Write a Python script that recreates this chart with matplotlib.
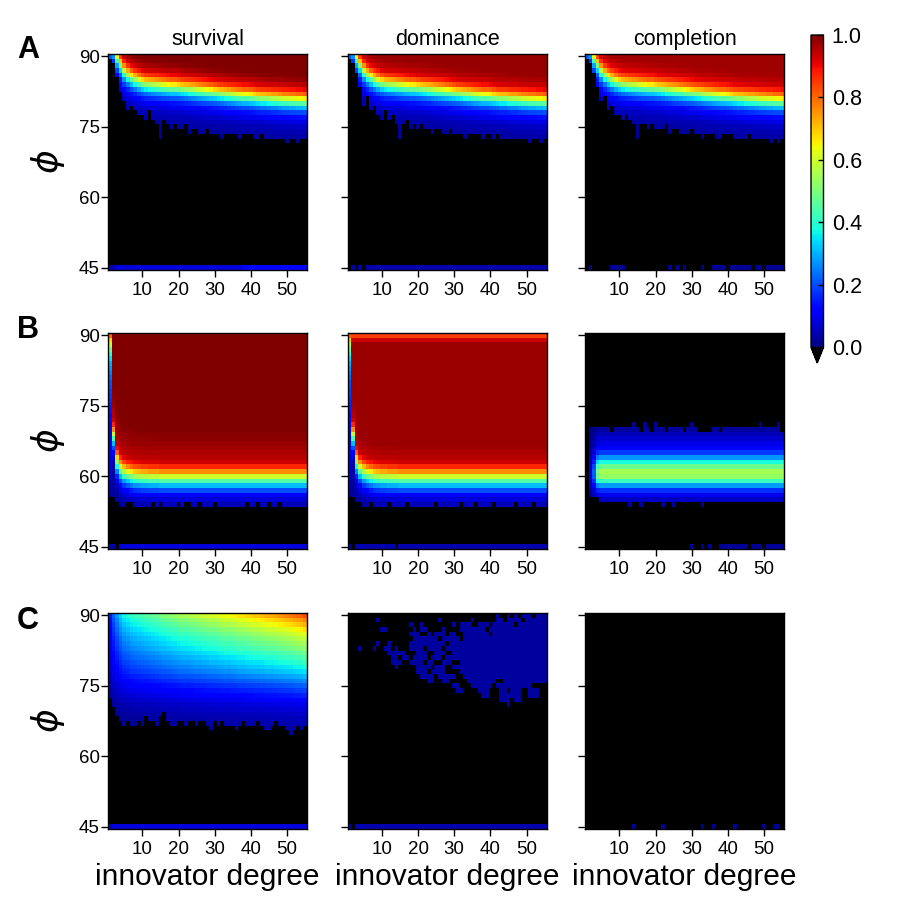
import numpy as np
import matplotlib.pyplot as plt

plt.rcParams['font.family'] = ['Liberation Sans', 'DejaVu Sans']

degree = np.arange(1, 56)
phi = np.arange(45, 91)
titles = ['survival', 'dominance', 'completion']
row_letters = ['A', 'B', 'C']
xticks = [10, 20, 30, 40, 50]
yticks = [45, 60, 75, 90]
cbar_ticks = [0.0, 0.2, 0.4, 0.6, 0.8, 1.0]

# codes used for the phi = 45 row ('.' = nothing, drawn black)
level = {'.': -1.0, '1': 0.02, '2': 0.04, '3': 0.08, '4': 0.11}

# ---- row A : phi where the value is 0.5, per degree
a_center = [92.0, 91.6, 89.4, 88.0, 86.6, 85.8, 85.2, 84.8, 84.4, 84.1,
            83.9, 83.8, 83.7, 83.6, 83.5, 83.4, 83.3, 83.2, 83.2, 83.1,
            83.0, 82.9, 82.8, 82.7, 82.6, 82.5, 82.4, 82.3, 82.2, 82.1,
            82.0, 81.9, 81.8, 81.7, 81.6, 81.5, 81.4, 81.3, 81.3, 81.2,
            81.1, 81.0, 80.9, 80.9, 80.8, 80.7, 80.7, 80.6, 80.5, 80.5,
            80.4, 80.4, 80.3, 80.3, 80.2]
a_offset = [-9, -8, -7, -6, -5, -4, -3, -2, -1, 0, 1, 2, 3, 4, 5, 6]
a_survival_prof = [0.02, 0.03, 0.04, 0.05, 0.07, 0.1, 0.15, 0.22, 0.34, 0.5,
                   0.7, 0.84, 0.92, 0.96, 0.99, 1.0]
a_dominance_prof = [0.02, 0.03, 0.04, 0.05, 0.07, 0.1, 0.15, 0.22, 0.34, 0.5,
                    0.7, 0.84, 0.92, 0.95, 0.97, 0.98]
a_completion_prof = [0.02, 0.03, 0.04, 0.05, 0.07, 0.1, 0.15, 0.22, 0.34, 0.5,
                     0.7, 0.83, 0.91, 0.94, 0.96, 0.97]
# lowest non-black phi, per degree
a_survival_low = [90, 89, 86, 83, 81, 79, 80, 79, 78, 78,
                  77, 79, 77, 76, 73, 77, 76, 75, 76, 75,
                  75, 76, 74, 75, 75, 74, 74, 75, 74, 74,
                  74, 73, 74, 74, 74, 74, 73, 74, 74, 74,
                  73, 73, 74, 73, 73, 73, 73, 73, 73, 72,
                  73, 73, 72, 73, 73]
a_dominance_low = [90, 89, 87, 84, 80, 82, 79, 80, 78, 77,
                   79, 77, 78, 76, 73, 76, 77, 75, 76, 75,
                   76, 75, 75, 74, 75, 75, 74, 74, 75, 74,
                   74, 74, 73, 74, 74, 74, 74, 73, 74, 74,
                   73, 74, 73, 73, 73, 73, 73, 73, 73, 73,
                   72, 73, 73, 72, 73]
a_completion_low = [90, 89, 87, 84, 81, 82, 79, 80, 78, 78,
                    77, 78, 77, 76, 73, 76, 76, 75, 76, 75,
                    75, 75, 76, 74, 75, 75, 74, 74, 74, 75,
                    74, 74, 73, 74, 74, 74, 73, 73, 74, 74,
                    74, 73, 73, 73, 73, 74, 73, 73, 73, 73,
                    73, 72, 73, 72, 73]
a_survival_bottom = '22' + '3' * 35 + '4' * 18
a_dominance_bottom = '.2.2.' + '2' * 50
a_completion_bottom = ('.1' + '.' * 5 + '1' * 4 + '.' * 12 + '1.1.1' + '.' * 4
                       + '1..' + '1' * 4 + '.' + '1' * 6 + '.11.' + '1' * 5)

# ---- row B : phi of the yellow (0.6) cell, per degree
b_center = [88.0, 69.0, 63.5, 62.0, 61.3, 60.9, 60.6, 60.4, 60.3, 60.2,
            60.2, 60.1, 60.1, 60.1, 60.0, 60.0, 60.0, 60.0, 60.0, 60.0,
            60.0, 60.0, 60.0, 60.0, 60.0, 60.0, 60.0, 60.0, 60.0, 60.0,
            60.0, 60.0, 60.0, 60.0, 60.0, 60.0, 60.0, 60.0, 60.0, 60.0,
            60.0, 60.0, 60.0, 60.0, 60.0, 60.0, 60.0, 60.0, 60.0, 60.0,
            60.0, 60.0, 60.0, 60.0, 60.0]
b_offset = [-7, -6, -5, -4, -3, -2, -1, 0, 1, 2, 3, 4, 5, 6, 7, 8, 9, 10, 11]
b_survival_prof = [0.03, 0.05, 0.08, 0.12, 0.2, 0.31, 0.45, 0.6, 0.76, 0.87,
                   0.93, 0.95, 0.96, 0.97, 0.98, 0.985, 0.99, 1.0, 1.0]
b_dominance_prof = [0.03, 0.05, 0.08, 0.12, 0.2, 0.31, 0.45, 0.6, 0.76, 0.87,
                    0.93, 0.95, 0.96, 0.97, 0.975, 0.975, 0.975, 0.975, 0.975]
b_dominance_top = {90: 0.84, 89: 0.93}
# degree 1 column, phi 90 down to 46
b_first_col = [0.8, 0.68, 0.58, 0.47, 0.4, 0.35, 0.3, 0.27, 0.25, 0.23,
               0.21, 0.2, 0.19, 0.18, 0.17, 0.16, 0.15, 0.14, 0.14, 0.13,
               0.13, 0.12, 0.12, 0.11, 0.11, 0.1, 0.1, 0.09, 0.09, 0.08,
               0.07, 0.06, 0.05, 0.04, 0.03, -1, -1, -1, -1, -1,
               -1, -1, -1, -1, -1]
b_survival_low = [56, 56, 55, 54, 54, 55, 55, 54, 54, 54,
                  54, 54, 55, 54, 55, 54, 54, 54, 54, 55,
                  54, 55, 55, 54, 54, 55, 54, 54, 54, 55,
                  54, 54, 54, 54, 54, 54, 54, 54, 55, 54,
                  54, 55, 54, 54, 55, 54, 54, 55, 54, 54,
                  54, 54, 54, 54, 54]
b_dominance_low = [56, 56, 55, 55, 54, 54, 55, 54, 54, 54,
                   54, 55, 54, 54, 54, 54, 55, 54, 54, 54,
                   54, 54, 54, 54, 55, 54, 54, 54, 54, 54,
                   54, 55, 54, 54, 54, 55, 54, 54, 54, 54,
                   55, 54, 54, 54, 54, 54, 55, 54, 54, 54,
                   54, 55, 54, 54, 54]
b_survival_bottom = '22.' + '3' * 52
b_dominance_bottom = '2.' + '2' * 11 + '.' + '2' * 41

# completion band, value per phi row
b_band_phi = [71, 70, 69, 68, 67, 66, 65, 64, 63, 62, 61, 60, 59, 58, 57, 56, 55, 54]
b_band_value = [0.02, 0.03, 0.05, 0.07, 0.09, 0.12, 0.18, 0.27, 0.38, 0.48,
                0.55, 0.53, 0.42, 0.28, 0.17, 0.1, 0.06, 0.03]
b_band_scale = [0.0, 0.15, 0.4, 0.9] + [1.0] * 51
b_band_top = [0, 70, 70, 70, 70, 70, 70, 69, 70, 70,
              70, 70, 70, 71, 70, 69, 71, 70, 69, 71,
              70, 70, 69, 70, 70, 70, 70, 69, 70, 71,
              70, 69, 69, 69, 69, 70, 70, 69, 70, 70,
              70, 70, 70, 70, 70, 70, 70, 70, 71, 70,
              70, 70, 70, 71, 69]
b_band_low = [99, 56, 56, 56, 55, 55, 55, 55, 55, 55,
              55, 55, 54, 55, 55, 54, 55, 55, 55, 55,
              55, 54, 55, 55, 54, 55, 55, 55, 55, 55,
              55, 55, 54, 55, 55, 55, 55, 55, 55, 55,
              55, 55, 55, 55, 55, 55, 55, 55, 55, 55,
              55, 55, 55, 55, 55]
b_completion_bottom = '.' * 29 + '1..1.1..' + '1' * 8 + '.111.' + '1' * 5

# ---- row C : survival = value at phi 90 per degree, times a phi factor
c_top = [0.15, 0.22, 0.28, 0.33, 0.37, 0.39, 0.41, 0.42, 0.43, 0.44,
         0.45, 0.46, 0.47, 0.48, 0.49, 0.5, 0.51, 0.52, 0.53, 0.54,
         0.55, 0.55, 0.56, 0.57, 0.58, 0.58, 0.59, 0.6, 0.61, 0.61,
         0.62, 0.63, 0.64, 0.64, 0.65, 0.66, 0.67, 0.67, 0.68, 0.69,
         0.7, 0.7, 0.71, 0.72, 0.73, 0.73, 0.74, 0.75, 0.76, 0.77,
         0.78, 0.79, 0.8, 0.81, 0.83]
# phi 90 down to 65
c_phi_factor = [1.0, 0.93, 0.87, 0.81, 0.76, 0.71, 0.67, 0.63, 0.58, 0.54,
                0.5, 0.46, 0.42, 0.37, 0.32, 0.27, 0.23, 0.19, 0.15, 0.12,
                0.1, 0.08, 0.065, 0.055, 0.045, 0.04]
c_survival_low = [73, 71, 69, 68, 67, 68, 67, 67, 68, 67,
                  69, 68, 68, 67, 69, 70, 68, 67, 67, 68,
                  68, 67, 68, 68, 67, 68, 68, 67, 66, 68,
                  67, 68, 67, 67, 67, 66, 67, 68, 67, 67,
                  67, 68, 67, 66, 66, 67, 68, 67, 67, 66,
                  65, 66, 67, 66, 67]
# dominance: scattered cells, phi -> degree ranges
c_dom_value = 0.03
c_dom_cells = {
    90: [(42, 42), (45, 45), (47, 47), (49, 51), (53, 55)],
    89: [(9, 9), (26, 26), (35, 35), (42, 43), (45, 48), (50, 55)],
    88: [(18, 18), (21, 21), (30, 30), (32, 34), (37, 39), (41, 46), (48, 55)],
    87: [(10, 11), (19, 19), (21, 22), (27, 27), (32, 38), (40, 55)],
    86: [(18, 20), (23, 23), (25, 27), (29, 30), (33, 39), (41, 55)],
    85: [(19, 25), (27, 31), (33, 55)],
    84: [(9, 9), (12, 12), (18, 27), (29, 55)],
    83: [(4, 4), (8, 8), (11, 12), (14, 14), (18, 21), (23, 26), (28, 55)],
    82: [(12, 16), (20, 22), (25, 27), (30, 55)],
    81: [(13, 14), (16, 17), (19, 22), (24, 26), (28, 55)],
    80: [(13, 15), (18, 21), (23, 24), (27, 29), (32, 55)],
    79: [(14, 14), (20, 23), (25, 27), (30, 55)],
    78: [(20, 22), (24, 27), (32, 55)],
    77: [(21, 24), (26, 30), (33, 55)],
    76: [(23, 24), (27, 28), (34, 41), (44, 55)],
    75: [(30, 31), (35, 40), (42, 51)],
    74: [(31, 32), (37, 39), (43, 44), (46, 48), (51, 53)],
    73: [(38, 39), (43, 46), (47, 48), (51, 53)],
    72: [(43, 45), (47, 48)],
    71: [(45, 45)],
}
c_survival_bottom = '2' + '3' * 54
c_dominance_bottom = '2.' + '2' * 53
c_completion_bottom = ('.' * 13 + '1' + '.' * 7 + '1' + '.' * 10 + '1..1'
                       + '.' * 5 + '1' + '.' * 7 + '1..11.')


def empty():
    return np.full((len(phi), len(degree)), -1.0)


def profile_grid(center, low, offset, prof):
    z = empty()
    for j in range(len(degree)):
        keep = (phi >= low[j]) & (phi > phi[0])
        z[keep, j] = np.interp(phi[keep] - center[j], offset, prof)
    return z


def set_bottom(z, code):
    z[0] = [level[ch] for ch in code]
    return z


grids = {}
grids[0, 0] = set_bottom(profile_grid(a_center, a_survival_low, a_offset, a_survival_prof), a_survival_bottom)
grids[0, 1] = set_bottom(profile_grid(a_center, a_dominance_low, a_offset, a_dominance_prof), a_dominance_bottom)
grids[0, 2] = set_bottom(profile_grid(a_center, a_completion_low, a_offset, a_completion_prof), a_completion_bottom)

z = profile_grid(b_center, b_survival_low, b_offset, b_survival_prof)
z[1:, 0] = b_first_col[::-1]
grids[1, 0] = set_bottom(z, b_survival_bottom)

z = profile_grid(b_center, b_dominance_low, b_offset, b_dominance_prof)
z[1:, 0] = b_first_col[::-1]
for p, cap in b_dominance_top.items():
    i = np.where(phi == p)[0][0]
    z[i] = np.where(z[i] >= 0, np.minimum(z[i], cap), z[i])
grids[1, 1] = set_bottom(z, b_dominance_bottom)

z = empty()
for j in range(len(degree)):
    for p, v in zip(b_band_phi, b_band_value):
        if b_band_low[j] <= p <= b_band_top[j]:
            z[phi == p, j] = v * b_band_scale[j]
grids[1, 2] = set_bottom(z, b_completion_bottom)

z = empty()
for j in range(len(degree)):
    for k, f in enumerate(c_phi_factor):
        p = 90 - k
        if p >= c_survival_low[j]:
            z[phi == p, j] = c_top[j] * f
grids[2, 0] = set_bottom(z, c_survival_bottom)

z = empty()
for p, spans in c_dom_cells.items():
    for a, b in spans:
        z[phi == p, a - 1:b] = c_dom_value
grids[2, 1] = set_bottom(z, c_dominance_bottom)

grids[2, 2] = set_bottom(empty(), c_completion_bottom)

cmap = plt.get_cmap('jet').copy()
cmap.set_under('black')

fig = plt.figure(figsize=(9, 9.11), dpi=100)
W, H = 900, 911
lefts = [108, 347.5, 585]
tops = [54, 333, 613]
letter_y = [50, 330, 621]
pw, ph = 199, 216

for r in range(3):
    for c in range(3):
        ax = fig.add_axes([lefts[c] / W, 1 - (tops[r] + ph) / H, pw / W, ph / H])
        mesh = ax.pcolormesh(degree, phi, grids[r, c], cmap=cmap, vmin=0, vmax=1,
                             shading='nearest')
        ax.set_xticks(xticks)
        ax.set_yticks(yticks)
        ax.tick_params(axis='x', length=5, width=1, pad=3.5, labelsize=13.5)
        ax.tick_params(axis='y', length=5, width=1, pad=1, labelsize=13.5)
        if c > 0:
            ax.set_yticklabels([])
        for s in ax.spines.values():
            s.set_linewidth(1.0)
        if r == 0:
            ax.set_title(titles[c], fontsize=15.5, pad=6.5)
        if r == 2:
            ax.set_xlabel('innovator degree', fontsize=21.5, labelpad=4)
        if c == 0:
            ax.text(-0.30, 0.5, r'$\phi$', transform=ax.transAxes, rotation=90,
                    ha='center', va='center', fontsize=26)
    fig.text(28 / W, 1 - letter_y[r] / H, row_letters[r], fontsize=22,
             fontweight='bold', ha='center', va='center')

cax = fig.add_axes([811 / W, 1 - 363 / H, 12.5 / W, 328 / H])
cb = fig.colorbar(mesh, cax=cax, extend='min', ticks=cbar_ticks, format='%.1f')
cb.outline.set_linewidth(1.0)
cax.tick_params(direction='in', length=3.5, width=1, pad=6, labelsize=15.5)

fig.savefig('out.png', dpi=100)
